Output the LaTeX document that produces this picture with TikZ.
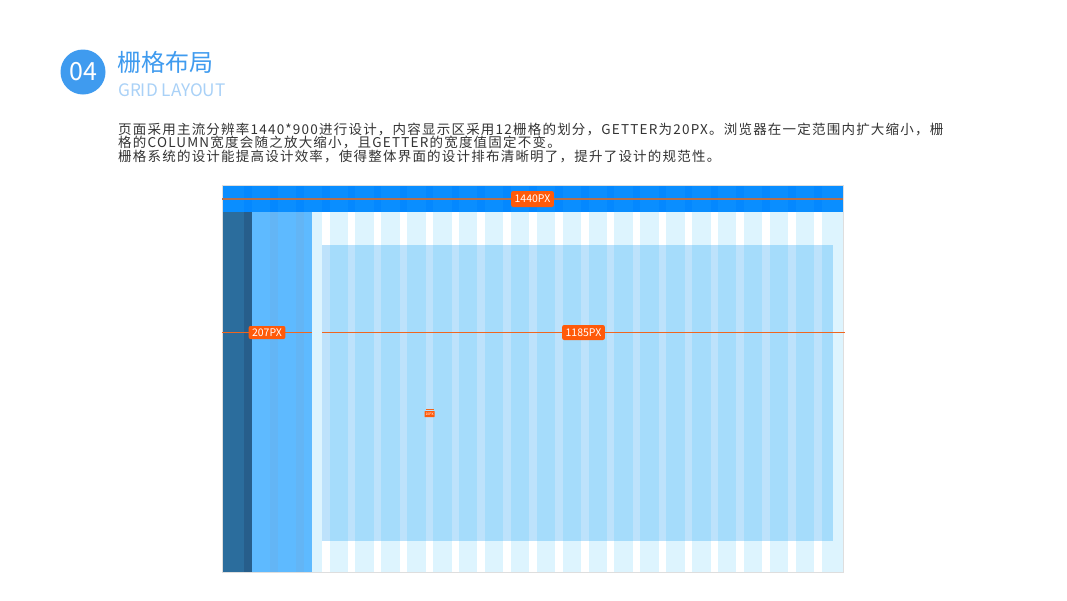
\documentclass[tikz,border=0pt]{standalone}
\usepackage{fontspec}
\setmainfont{Noto Sans CJK SC}
\usepackage{tikz}
\definecolor{headblue}{RGB}{63, 155, 239}
\definecolor{subblue}{RGB}{169, 209, 247}
\definecolor{barblue}{RGB}{10, 142, 255}
\definecolor{barstripe}{RGB}{4, 136, 255}
\definecolor{sidedark}{RGB}{43, 109, 157}
\definecolor{sidedarkstripe}{RGB}{39, 94, 139}
\definecolor{sidelight}{RGB}{94, 186, 255}
\definecolor{sidelightstripe}{RGB}{99, 181, 245}
\definecolor{colcyan}{RGB}{221, 244, 254}
\definecolor{innerblue}{RGB}{165, 220, 251}
\definecolor{innerstripe}{RGB}{189, 226, 251}
\definecolor{dimorange}{RGB}{255, 90, 10}
\definecolor{dimline}{RGB}{240, 102, 30}
\definecolor{topline}{RGB}{176, 112, 80}
\usetikzlibrary{calc}

\begin{document}
\begin{tikzpicture}[x=1pt, y=-1pt,
			dimline/.style={draw=dimline, line width=1.1pt},
			dimlabel/.style={fill=dimorange, text=white, rounded corners=2pt, inner xsep=3.5pt, inner ysep=0pt,
				minimum height=14pt, font=\fontsize{10.5}{10.5}\selectfont},
			bodytext/.style={anchor=base west, inner sep=0pt, text=black!80,
				font=\fontsize{13.5}{13.5}\selectfont\addfontfeature{LetterSpace=9}},
			gutter/.style={fill=white}]
			%Hintergrund und Bildbereich
			\fill[white] (0,0) rectangle (1067,600);
			\useasboundingbox (0,0) rectangle (1067,600);
			% Kopf
			\node[circle, fill=headblue, minimum size=45pt, inner sep=0pt, text=white,
				font=\fontsize{25}{25}\selectfont] (num) at (83,72) {04};
			\node[anchor=base west, inner sep=0pt, text=headblue, font=\fontsize{24}{24}\selectfont] (title) at (117,71) {栅格布局};
			\node[anchor=base west, inner sep=0pt, text=subblue, font=\fontsize{17.2}{17.2}\selectfont] (subtitle) at (118,96) {GRID LAYOUT};
			% Text
			\node[bodytext] (line1) at (118,134)
				{页面采用主流分辨率1440*900进行设计，内容显示区采用12栅格的划分，GETTER为20PX。浏览器在一定范围内扩大缩小，栅};
			\node[bodytext] (line2) at (118,147.5)
				{格的COLUMN宽度会随之放大缩小，且GETTER的宽度值固定不变。};
			\node[bodytext] (line3) at (118,161)
				{栅格系统的设计能提高设计效率，使得整体界面的设计排布清晰明了，提升了设计的规范性。};
			%Raster zeichnen
			\fill[colcyan] (312,212) rectangle (843,572);
			\foreach \k in {0,...,19} \fill[gutter] ({322+25.9*\k},212) rectangle ({329.5+25.9*\k},572);
			% Inhaltsbereich
			\fill[innerblue] (322,245) rectangle (833,541);
			\foreach \k in {0,...,19} \fill[innerstripe] ({322+25.9*\k},245) rectangle ({329.5+25.9*\k},541);
			% Kopfleiste
			\fill[barblue] (222,185) rectangle (843,212);
			\foreach \k in {-3,...,19} \fill[barstripe] ({322+25.9*\k},185) rectangle ({329.5+25.9*\k},212);
			% Seitenleisten
			\fill[sidedark] (222,212) rectangle (252,572);
			\fill[sidedarkstripe] (244.3,212) rectangle (252,572);
			\fill[sidelight] (252,212) rectangle (312,572);
			\foreach \k in {-2,-1} \fill[sidelightstripe] ({322+25.9*\k},212) rectangle ({329.5+25.9*\k},572);
			% Rahmen
			\draw[black!13, line width=1pt] (222,185) rectangle (843,572);
			% Masse
			\coordinate (tl) at (222,199);
			\coordinate (tr) at (843,199);
			\draw[dimline, draw=topline, line width=1.4pt] (tl) -- (tr);
			\node[dimlabel, minimum height=16pt] (w1440) at ($(tl)!0.5!(tr)$) {1440PX};
			\coordinate (ml) at (222,332.5);
			\coordinate (mm) at (312,332.5);
			\coordinate (mr) at (322,332.5);
			\coordinate (me) at (845,332.5);
			\draw[dimline] (ml) -- (mm);
			\draw[dimline] (mr) -- (me);
			\node[dimlabel, minimum height=13pt] (w207) at ($(ml)!0.5!(mm)$) {207PX};
			\node[dimlabel, minimum height=15pt] (w1185) at ($(mr)!0.5!(me)$) {1185PX};
			% Abstand
			\coordinate (ga) at (426,409);
			\coordinate (gb) at (434,409);
			\draw[dimline, line width=0.8pt] (ga) -- (gb);
			\node[dimlabel, minimum height=6pt, inner xsep=1pt, rounded corners=0.5pt,
				font=\fontsize{3.5}{3.5}\selectfont] (w10) at (429.5,414) {10PX};
		\end{tikzpicture}
\end{document}
